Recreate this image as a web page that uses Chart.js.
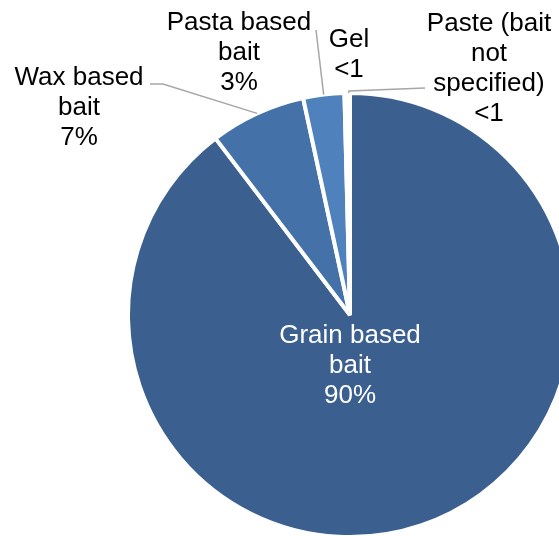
<!DOCTYPE html>
<html>
<head>
<meta charset="utf-8">
<title>Bait types</title>
<script src="https://cdn.jsdelivr.net/npm/chart.js@4.4.0/dist/chart.umd.min.js"></script>
<style>
	html, body { margin: 0; padding: 0; overflow: hidden; background: #fff; }
	#caixa { position: absolute; left: 0; top: 0; width: 700px; height: 540px; }
</style>
</head>
<body>
<div id="caixa"><canvas id="graficoIscas"></canvas></div>
<script>
// categorias (cada uma quebrada em linhas como no rotulo)
var categorias = [
	['Grain based', 'bait'],
	['Wax based', 'bait'],
	['Pasta based', 'bait'],
	['Gel'],
	['Paste (bait', 'not', 'specified)']
];
var percentuais = [90, 7, 3, 0.2, 0.2];
var rotulosValor = ['90%', '7%', '3%', '<1', '<1'];
var cores = ['#3B608F', '#4472A8', '#4F81BD', '#8EADD6', '#B7CCE6'];

// onde fica cada rotulo (centro x, primeira linha de base y) e a quebra da linha guia
var posRotulos = [
	{ x: 350, y: 343, cor: '#fff', guia: null },
	{ x: 79,  y: 85,  cor: '#000', guia: [[150, 84], [163, 84]] },
	{ x: 239, y: 30,  cor: '#000', guia: [[316, 30]] },
	{ x: 349, y: 47,  cor: '#000', guia: null },
	{ x: 489, y: 31,  cor: '#000', guia: [[425, 88], [349, 91]] }
];

var Iscas = Iscas || {};

Iscas.RotulosPizza = {
	id: 'rotulosPizza',
	afterDatasetsDraw: function(chart) {
		var ctx = chart.ctx;
		var arcos = chart.getDatasetMeta(0).data;
		ctx.save();

		// linhas guia ate o meio de cada fatia
		ctx.strokeStyle = '#A6A6A6';
		ctx.lineWidth = 1.5;
		arcos.forEach(function(arco, i) {
			var p = posRotulos[i];
			if (!p.guia) return;
			var meio = (arco.startAngle + arco.endAngle) / 2;
			var r = arco.outerRadius;
			ctx.beginPath();
			ctx.moveTo(p.guia[0][0], p.guia[0][1]);
			for (var k = 1; k < p.guia.length; k++) {
				ctx.lineTo(p.guia[k][0], p.guia[k][1]);
			}
			ctx.lineTo(arco.x + Math.cos(meio) * r, arco.y + Math.sin(meio) * r);
			ctx.stroke();
		});

		ctx.font = '26px "Liberation Sans", Arial, sans-serif';
		ctx.textAlign = 'center';
		ctx.textBaseline = 'alphabetic';
		arcos.forEach(function(arco, i) {
			var p = posRotulos[i];
			var linhas = categorias[i].concat([rotulosValor[i]]);
			ctx.fillStyle = p.cor;
			linhas.forEach(function(txt, l) {
				ctx.fillText(txt, p.x, p.y + l * 30);
			});
		});
		ctx.restore();
	}
};

Iscas.GraficoIscas = (function() {

	function GraficoIscas() {
		this.ctx = document.getElementById('graficoIscas').getContext('2d');
	}

	GraficoIscas.prototype.iniciar = function() {
		new Chart(this.ctx, {
			type: 'pie',
			data: {
				labels: categorias,
				datasets: [{
					data: percentuais,
					backgroundColor: cores,
					borderColor: '#fff',
					borderWidth: 4
				}]
			},
			options: {
				responsive: true,
				maintainAspectRatio: false,
				animation: false,
				layout: { padding: { left: 126, right: 126, top: 91, bottom: 1 } },
				plugins: {
					legend: { display: false },
					tooltip: { enabled: false }
				}
			},
			plugins: [Iscas.RotulosPizza]
		});
	};

	return GraficoIscas;

}());

var graficoIscas = new Iscas.GraficoIscas();
graficoIscas.iniciar();
</script>
</body>
</html>
